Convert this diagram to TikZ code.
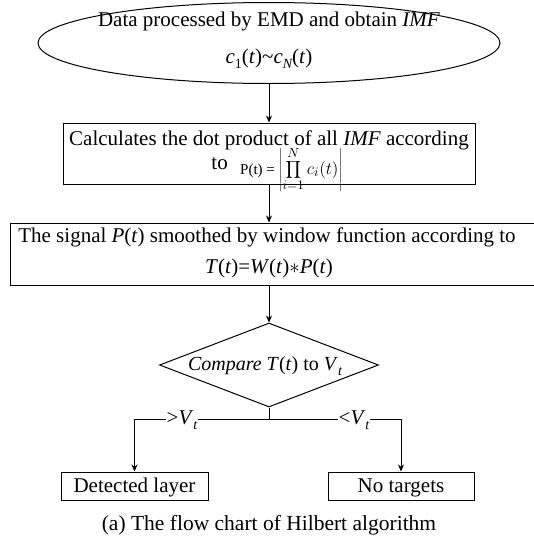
\documentclass[tikz,border=0pt]{standalone}
\usepackage{fontspec}
\setmainfont{Liberation Serif}
\usetikzlibrary{shapes.geometric,arrows.meta}

% lowered italic subscript for text-mode symbols such as V_t
\newcommand\lowsub[1]{\raisebox{-5pt}{\fontsize{14}{14}\selectfont\itshape #1}}

\begin{document}
\begin{tikzpicture}[x=1pt,y=-1pt,
  every node/.style={font=\fontsize{21}{25}\selectfont},
  flowbox/.style={draw, line width=1pt, inner sep=0pt},
  txt/.style={inner sep=0pt, anchor=base},
  link/.style={draw, line width=0.9pt, -{Stealth[length=7pt,width=6pt]}},
  plain/.style={draw, line width=0.9pt},
  tag/.style={fill=white, inner sep=1pt, anchor=base}]
\useasboundingbox (0,0) rectangle (534,544);

% start: EMD decomposition
\node[flowbox, ellipse, minimum width=462pt, minimum height=81pt] (emd) at (269,43) {};
\node[txt] (emdA) at (269,26) {Data processed by EMD and obtain \textit{IMF}};
\node[txt] (emdB) at (269,63) {\textit{c}\lowsub{\upshape 1}(\textit{t})\textasciitilde\textit{c}\lowsub{N}(\textit{t})};

% dot product of all IMFs
\node[flowbox, minimum width=412pt, minimum height=61pt] (prod) at (269,153.5) {};
\node[txt] (prodA) at (269,145) {Calculates the dot product of all \textit{IMF} according};
\node[txt, anchor=base east] (prodTo) at (228,169) {to};
\node[txt, anchor=base west] (prodF) at (240,174) {\fontsize{15}{15}\selectfont P(t) = \scalebox{1.2}{$\displaystyle\left|\prod_{i=1}^{N} c_i(t)\right|$}};

% smoothing by window function
\node[flowbox, minimum width=535pt, minimum height=62pt] (smooth) at (277.5,254) {};
\node[txt] (smoothA) at (267,242) {The signal \textit{P}(\textit{t}) smoothed by window function according to};
\node[txt] (smoothB) at (269,273) {\textit{T}(\textit{t})=\textit{W}(\textit{t})$\ast$\textit{P}(\textit{t})};

% threshold decision
\node[flowbox, diamond, minimum width=219pt, minimum height=84pt] (cmp) at (269,365) {};
\node[txt, font=\fontsize{20}{24}\selectfont] (cmpA) at (265,370) {\textit{Compare T}(\textit{t}) to \textit{V}\lowsub{t}};

% outcomes
\node[flowbox, minimum width=147pt, minimum height=28pt] (det) at (134.5,486) {};
\node[txt] at (134.5,492) {Detected layer};
\node[flowbox, minimum width=146pt, minimum height=28pt] (none) at (401,486) {};
\node[txt] at (401,492) {No targets};

% connectors
\coordinate (split) at (269,419);
\draw[link] (emd.south) -- (prod.north);
\draw[link] (prod.south) -- (prod.south |- smooth.north);
\draw[link] (prod.south |- smooth.south) -- (cmp.north);
\draw[plain] (cmp.south) -- (split);
\draw[link] (split) -| (det.north);
\draw[link] (split) -| (none.north);

% branch labels
\node[tag] (gt) at (182,424) {>\textit{V}\lowsub{t}};
\node[tag] (lt) at (354,424) {<\textit{V}\lowsub{t}};

% caption
\node[txt, font=\fontsize{21.5}{25}\selectfont] (cap) at (269,530) {(a) The flow chart of Hilbert algorithm};
\end{tikzpicture}
\end{document}
